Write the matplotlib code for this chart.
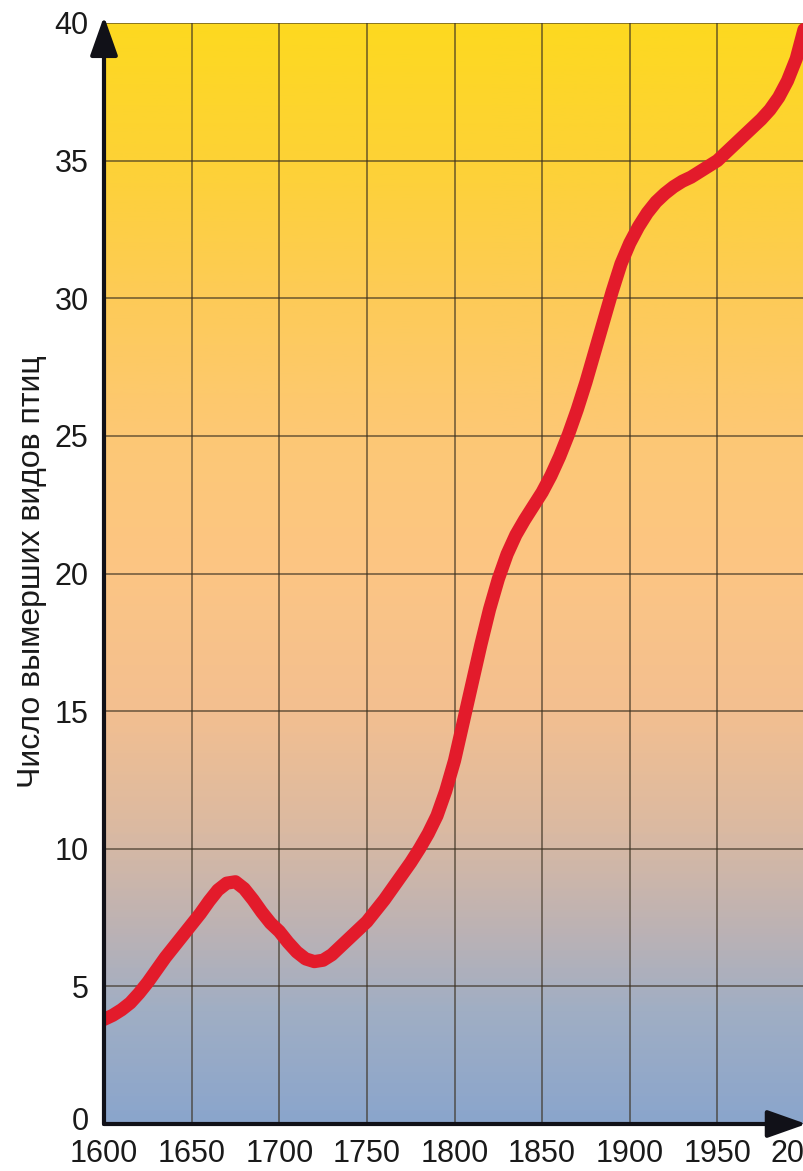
import matplotlib.pyplot as plt
import matplotlib.transforms as mtransforms
import numpy as np
from matplotlib.colors import LinearSegmentedColormap

# every 5 years: number of extinct bird species
years = list(range(1600, 2001, 5))
species = [3.8, 3.95, 4.15, 4.4, 4.75, 5.15, 5.6, 6.05, 6.45, 6.85,     # 1600-1645
           7.25, 7.65, 8.1, 8.5, 8.75, 8.8, 8.55, 8.15, 7.7, 7.3,        # 1650-1695
           7.0, 6.6, 6.25, 6.0, 5.9, 5.95, 6.15, 6.45, 6.75, 7.05,       # 1700-1745
           7.35, 7.75, 8.15, 8.6, 9.05, 9.5, 10.0, 10.55, 11.2, 12.1,    # 1750-1795
           13.2, 14.6, 16.0, 17.4, 18.7, 19.8, 20.7, 21.4, 21.95, 22.45, # 1800-1845
           22.95, 23.55, 24.25, 25.05, 25.95, 26.95, 28.05, 29.15, 30.25, 31.25,  # 1850-1895
           32.0, 32.6, 33.1, 33.5, 33.8, 34.05, 34.25, 34.4, 34.6, 34.8,  # 1900-1945
           35.0, 35.3, 35.6, 35.9, 36.2, 36.5, 36.85, 37.3, 37.9, 38.7,  # 1950-1995
           39.9]                                                         # 2000

x_ticks = [1600, 1650, 1700, 1750, 1800, 1850, 1900, 1950, 2000]
y_ticks = [0, 5, 10, 15, 20, 25, 30, 35, 40]
y_label = "Число вымерших видов птиц"

# background colour bands (value on y axis, colour)
bg_stops = [(0, "#8aa5cc"), (4, "#a0aec4"), (7, "#bcb2b4"), (11, "#ddbaa0"),
            (15, "#f3bf90"), (20, "#fcc584"), (25, "#fdc875"), (30, "#fdcb58"),
            (35, "#fdd236"), (40, "#fdd920")]

plt.rcParams["font.family"] = ["Liberation Sans", "DejaVu Sans"]

fig = plt.figure(figsize=(8.04, 11.71), dpi=100)
ax = fig.add_axes([104 / 804, 1 - 1124 / 1171, 701 / 804, 1101 / 1171])

cmap = LinearSegmentedColormap.from_list(
    "bg", [(v / 40, c) for v, c in bg_stops]
)
grad = np.linspace(0, 1, 400).reshape(-1, 1)
ax.imshow(grad, cmap=cmap, origin="lower", aspect="auto",
          extent=[1600, 2000, 0, 40], zorder=0)

ax.set_xlim(1600, 2000)
ax.set_ylim(0, 40)
ax.set_xticks(x_ticks)
ax.set_yticks(y_ticks)
ax.tick_params(length=0, labelsize=22, colors="#1a1a1a")
ax.tick_params(axis="x", pad=11)
ax.tick_params(axis="y", pad=11)

# the "0" label sits a little above the x axis
zero_label = ax.get_yticklabels()[0]
zero_label.set_transform(zero_label.get_transform() +
                         mtransforms.ScaledTranslation(0, 6 / 100, fig.dpi_scale_trans))

for x in x_ticks:
    ax.axvline(x, color="#3a3020", lw=1.1, alpha=0.75, zorder=1)
for y in y_ticks:
    ax.axhline(y, color="#3a3020", lw=1.1, alpha=0.75, zorder=1)

ax.plot(years, species, color="#e31b2b", lw=9.5, solid_joinstyle="round",
        solid_capstyle="round", zorder=3)

for s in ax.spines.values():
    s.set_visible(False)

# axes drawn as arrows
ax.annotate("", xy=(0, 1.006), xytext=(0, 0), xycoords="axes fraction",
            arrowprops=dict(arrowstyle="-|>,head_length=2.4,head_width=0.85",
                            color="#111118", lw=3, shrinkA=0, shrinkB=0),
            zorder=5, annotation_clip=False)
ax.annotate("", xy=(1.002, 0), xytext=(0, 0), xycoords="axes fraction",
            arrowprops=dict(arrowstyle="-|>,head_length=2.4,head_width=0.85",
                            color="#111118", lw=3, shrinkA=0, shrinkB=0),
            zorder=5, annotation_clip=False)

fig.text(32 / 804, 1 - 572 / 1171, y_label, rotation=90, fontsize=23,
         ha="center", va="center", color="#1a1a1a")

fig.savefig("out.png", dpi=100)
